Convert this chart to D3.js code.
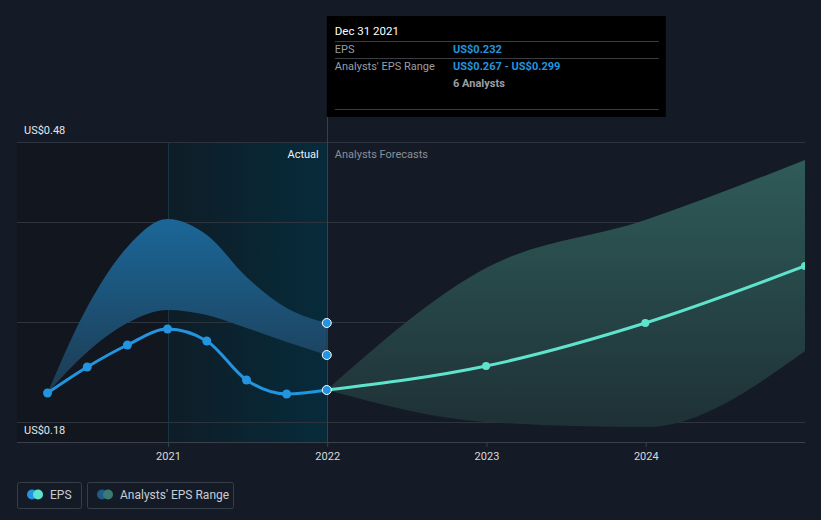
<!DOCTYPE html>
<html>
<head>
<meta charset="utf-8">
<script src="https://cdn.jsdelivr.net/npm/d3@7/dist/d3.min.js"></script>
<style>
  html, body { margin: 0; padding: 0; background: #151b26; }
  svg { display: block; font-family: Roboto, "Noto Sans", sans-serif; }
</style>
</head>
<body>
<svg id="chart" width="821" height="520"></svg>
<script>
// ---- Data ----
const pastDates = ["2020-03-31","2020-06-30","2020-09-30","2020-12-31","2021-03-31","2021-06-30","2021-09-30","2021-12-31"];
const pastEPS   = [0.229, 0.255, 0.277, 0.293, 0.281, 0.242, 0.228, 0.232];
const pastHigh  = [0.229, 0.315, 0.375, 0.403, 0.387, 0.345, 0.314, 0.299];
const pastLow   = [0.229, 0.270, 0.299, 0.312, 0.307, 0.294, 0.280, 0.267];

const fcDates = ["2021-12-31","2022-12-31","2023-12-31","2024-12-31"];
const fcEPS   = [0.232, 0.256, 0.299, 0.356];
const fcHigh  = [0.232, 0.354, 0.402, 0.462];
const fcLow   = [0.232, 0.200, 0.195, 0.271];

const yTickValues = [0.18, 0.48];
const gridValues = [0.20, 0.30, 0.40, 0.48];
const xTickLabels = ["2021", "2022", "2023", "2024"];

const tooltipDate = "Dec 31 2021";
const tooltipEPS = "US$0.232";
const tooltipRange = "US$0.267 - US$0.299";
const tooltipAnalysts = "6 Analysts";

// ---- Setup ----
const parse = d3.timeParse("%Y-%m-%d");
const svg = d3.select("#chart");
const pL = 17, pR = 805, pT = 142, pB = 442;

const x = d3.scaleTime()
  .domain([parse("2020-01-21"), parse("2024-12-31")])
  .range([pL, pR]);
const y = d3.scaleLinear().domain([0.18, 0.48]).range([pB, pT]);

const past = pastDates.map((d, i) => ({ date: parse(d), eps: pastEPS[i], hi: pastHigh[i], lo: pastLow[i] }));
const fc = fcDates.map((d, i) => ({ date: parse(d), eps: fcEPS[i], hi: fcHigh[i], lo: fcLow[i] }));

const xActualStart = x(parse("2021-01-01"));
const xNow = x(parse("2021-12-31"));

const defs = svg.append("defs");
defs.append("clipPath").attr("id", "clip")
  .append("rect").attr("x", pL).attr("y", 0).attr("width", pR - pL).attr("height", pB);

const gAct = defs.append("linearGradient").attr("id", "actGrad")
  .attr("gradientUnits", "userSpaceOnUse")
  .attr("x1", xActualStart).attr("x2", xNow).attr("y1", 0).attr("y2", 0);
gAct.append("stop").attr("offset", 0).attr("stop-color", "#0e1d27");
gAct.append("stop").attr("offset", 1).attr("stop-color", "#072b3b");

const gBlue = defs.append("linearGradient").attr("id", "blueGrad")
  .attr("gradientUnits", "userSpaceOnUse")
  .attr("x1", 0).attr("x2", 0).attr("y1", y(0.40)).attr("y2", y(0.225));
gBlue.append("stop").attr("offset", 0).attr("stop-color", "#1b6697");
gBlue.append("stop").attr("offset", 1).attr("stop-color", "#1d3a50");

const gTeal = defs.append("linearGradient").attr("id", "tealGrad")
  .attr("gradientUnits", "userSpaceOnUse")
  .attr("x1", 0).attr("x2", 0).attr("y1", y(0.46)).attr("y2", y(0.19));
gTeal.append("stop").attr("offset", 0).attr("stop-color", "#2f5b59");
gTeal.append("stop").attr("offset", 1).attr("stop-color", "#1e3035");

// ---- Background regions ----
svg.append("rect").attr("x", pL).attr("y", pT).attr("width", xActualStart - pL).attr("height", pB - pT)
  .attr("fill", "#12161f");
svg.append("rect").attr("x", xActualStart).attr("y", pT).attr("width", xNow - xActualStart).attr("height", pB - pT)
  .attr("fill", "url(#actGrad)");

// ---- Gridlines ----
svg.append("g").selectAll("line").data(gridValues).join("line")
  .attr("x1", pL).attr("x2", pR)
  .attr("y1", d => Math.round(y(d)) + 0.5).attr("y2", d => Math.round(y(d)) + 0.5)
  .attr("stroke", "#2e343e").attr("stroke-width", 1);

// vertical lines
svg.append("line").attr("x1", Math.round(xActualStart) + 0.5).attr("x2", Math.round(xActualStart) + 0.5)
  .attr("y1", pT).attr("y2", pB).attr("stroke", "#173443").attr("stroke-width", 1);
svg.append("line").attr("x1", Math.round(xNow) + 0.5).attr("x2", Math.round(xNow) + 0.5)
  .attr("y1", 16).attr("y2", pB).attr("stroke", "#2a4656").attr("stroke-width", 1);

// ---- Bands ----
const plot = svg.append("g").attr("clip-path", "url(#clip)");
const area = d3.area().x(d => x(d.date)).y0(d => y(d.lo)).y1(d => y(d.hi)).curve(d3.curveMonotoneX);
plot.append("path").datum(fc).attr("d", area).attr("fill", "url(#tealGrad)");
plot.append("path").datum(past).attr("d", area).attr("fill", "url(#blueGrad)");

// ---- Lines ----
const line = d3.line().x(d => x(d.date)).y(d => y(d.eps)).curve(d3.curveMonotoneX);
plot.append("path").datum(fc).attr("d", line).attr("fill", "none").attr("stroke", "#5fe3cc").attr("stroke-width", 3);
plot.append("path").datum(past).attr("d", line).attr("fill", "none").attr("stroke", "#2394df").attr("stroke-width", 3);

plot.append("g").selectAll("circle").data(fc.slice(1)).join("circle")
  .attr("cx", d => x(d.date)).attr("cy", d => y(d.eps)).attr("r", 4).attr("fill", "#5fe3cc");
plot.append("g").selectAll("circle").data(past.slice(0, -1)).join("circle")
  .attr("cx", d => x(d.date)).attr("cy", d => y(d.eps)).attr("r", 4.5).attr("fill", "#2394df");

const last = past[past.length - 1];
plot.append("g").selectAll("circle").data([last.hi, last.lo, last.eps]).join("circle")
  .attr("cx", x(last.date)).attr("cy", d => y(d)).attr("r", 4.5)
  .attr("fill", "#2394df").attr("stroke", "#ffffff").attr("stroke-width", 1);

// ---- X axis ----
const xAxisG = svg.append("g").attr("transform", `translate(0,${pB})`);
xAxisG.append("line").attr("x1", pL).attr("x2", pR).attr("y1", 0.5).attr("y2", 0.5)
  .attr("stroke", "#3b414b");
const xAxis = d3.axisBottom(x)
  .tickValues(xTickLabels.map(t => parse(t + "-01-01")))
  .tickFormat(d3.timeFormat("%Y"))
  .tickSize(5).tickPadding(5);
const ax = svg.append("g").attr("transform", `translate(0,${pB})`).call(xAxis);
ax.select(".domain").remove();
ax.selectAll(".tick line").attr("stroke", "#3b414b");
ax.selectAll(".tick text").attr("fill", "#d6d9de").attr("font-size", 11).attr("font-family", "Roboto, sans-serif");

// ---- Y labels ----
svg.append("g").selectAll("text").data(yTickValues).join("text")
  .attr("x", 24).attr("y", d => y(d) - 8)
  .attr("fill", "#e4e6ea").attr("font-size", 11)
  .text(d => "US$" + d3.format(".2f")(d));

// ---- Section labels ----
svg.append("text").attr("x", xNow - 8).attr("y", 158).attr("text-anchor", "end")
  .attr("fill", "#f0f2f5").attr("font-size", 11).text("Actual");
svg.append("text").attr("x", xNow + 8).attr("y", 158)
  .attr("fill", "#8a8f98").attr("font-size", 11).text("Analysts Forecasts");

// ---- Tooltip ----
const tt = svg.append("g");
tt.append("rect").attr("x", xNow).attr("y", 16).attr("width", 339).attr("height", 101).attr("fill", "#000000");
tt.append("text").attr("x", xNow + 8).attr("y", 35).attr("fill", "#ffffff").attr("font-size", 11.5).text(tooltipDate);
[41, 58, 109].forEach(v => {
  tt.append("line").attr("x1", xNow + 8).attr("x2", xNow + 332).attr("y1", v + 0.5).attr("y2", v + 0.5)
    .attr("stroke", "#3a3d42");
});
tt.append("text").attr("x", xNow + 8).attr("y", 52.5).attr("fill", "#9a9ea5").attr("font-size", 11).text("EPS");
tt.append("text").attr("x", 453).attr("y", 52.5).attr("fill", "#2394df").attr("font-size", 11).attr("font-weight", "bold").text(tooltipEPS);
tt.append("text").attr("x", xNow + 8).attr("y", 69.5).attr("fill", "#9a9ea5").attr("font-size", 11).text("Analysts' EPS Range");
tt.append("text").attr("x", 453).attr("y", 69.5).attr("fill", "#2394df").attr("font-size", 11).attr("font-weight", "bold").text(tooltipRange);
tt.append("text").attr("x", 453).attr("y", 86.5).attr("fill", "#9a9ea5").attr("font-size", 11).attr("font-weight", "bold").text(tooltipAnalysts);

// ---- Legend ----
const legendItems = [
  { label: "EPS", c1: "#2394df", c2: "#5fe3cc", x: 17, w: 64 },
  { label: "Analysts' EPS Range", c1: "#1f5d88", c2: "#3b7b73", x: 87, w: 146 }
];
const lg = svg.append("g").selectAll("g").data(legendItems).join("g")
  .attr("transform", d => `translate(${d.x},482)`);
lg.append("rect").attr("x", 0.5).attr("y", 0.5).attr("width", d => d.w).attr("height", 26).attr("rx", 2)
  .attr("fill", "none").attr("stroke", "#383e48");
lg.append("circle").attr("cx", 15).attr("cy", 12.5).attr("r", 5).attr("fill", d => d.c1);
lg.append("circle").attr("cx", 21).attr("cy", 12.5).attr("r", 5).attr("fill", d => d.c2);
lg.append("text").attr("x", 33).attr("y", 17).attr("fill", "#c9cdd3").attr("font-size", 12).text(d => d.label);
</script>
</body>
</html>
